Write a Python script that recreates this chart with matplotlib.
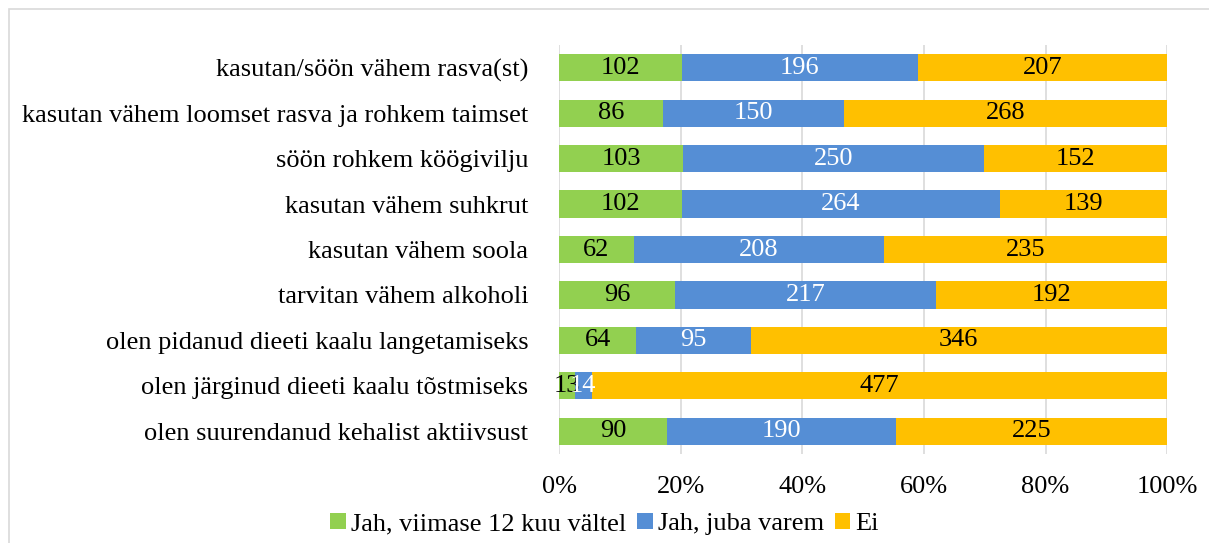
import matplotlib
matplotlib.use('Agg')
import matplotlib.pyplot as plt
import matplotlib.patches as mpatches
import numpy as np

categories = [
    'kasutan/söön vähem rasva(st)',
    'kasutan vähem loomset rasva ja rohkem taimset',
    'söön rohkem köögivilju',
    'kasutan vähem suhkrut',
    'kasutan vähem soola',
    'tarvitan vähem alkoholi',
    'olen pidanud dieeti kaalu langetamiseks',
    'olen järginud dieeti kaalu tõstmiseks',
    'olen suurendanud kehalist aktiivsust',
]
jah_12 = [102, 86, 103, 102, 62, 96, 64, 13, 90]
jah_varem = [196, 150, 250, 264, 208, 217, 95, 14, 190]
ei = [207, 268, 152, 139, 235, 192, 346, 477, 225]
series_names = ['Jah, viimase 12 kuu vältel', 'Jah, juba varem', 'Ei']
colors = ['#92D050', '#558ED5', '#FFC000']
text_colors = ['black', 'white', 'black']

plt.rcParams['font.family'] = ['Liberation Serif', 'DejaVu Serif']
FS = 19

fig = plt.figure(figsize=(12.09, 5.43), dpi=100)
ax = fig.add_axes([0.4624, 0.164, 0.503, 0.753])

# chart area border (top/left only visible)
fig.patches.append(mpatches.Rectangle((9 / 1209, -0.1), 1.2, 1 - 9 / 543 + 0.1,
                                      transform=fig.transFigure, fill=False,
                                      edgecolor='#D9D9D9', linewidth=1.2))

vals = np.array([jah_12, jah_varem, ei], dtype=float)
totals = vals.sum(axis=0)
pct = vals / totals
y = np.arange(len(categories))
left = np.zeros(len(categories))
for i in range(3):
    ax.barh(y, pct[i], left=left, height=0.6, color=colors[i],
            label=series_names[i], zorder=3)
    for j in range(len(categories)):
        ax.text(left[j] + pct[i][j] / 2, y[j], str(int(vals[i][j])),
                ha='center', va='center', fontsize=FS, color=text_colors[i],
                zorder=4)
    left += pct[i]

ax.set_ylim(len(categories) - 0.5, -0.5)
ax.set_xlim(0, 1)
ax.set_yticks(y)
ax.set_yticklabels(categories, fontsize=FS)
ax.set_xticks(np.linspace(0, 1, 6))
ax.set_xticklabels(['0%', '20%', '40%', '60%', '80%', '100%'], fontsize=FS)
ax.tick_params(axis='both', length=0)
ax.tick_params(axis='y', pad=22)
ax.tick_params(axis='x', pad=16)
ax.grid(axis='x', color='#D9D9D9', linewidth=1.2, zorder=0)
for s in ax.spines.values():
    s.set_visible(False)

fig.legend(loc='center', bbox_to_anchor=(0.5, 0.035), ncol=3, frameon=False,
           fontsize=FS, handlelength=0.6, handleheight=0.6, handletextpad=0.2,
           columnspacing=0.4)

fig.savefig('out.png', dpi=100)
